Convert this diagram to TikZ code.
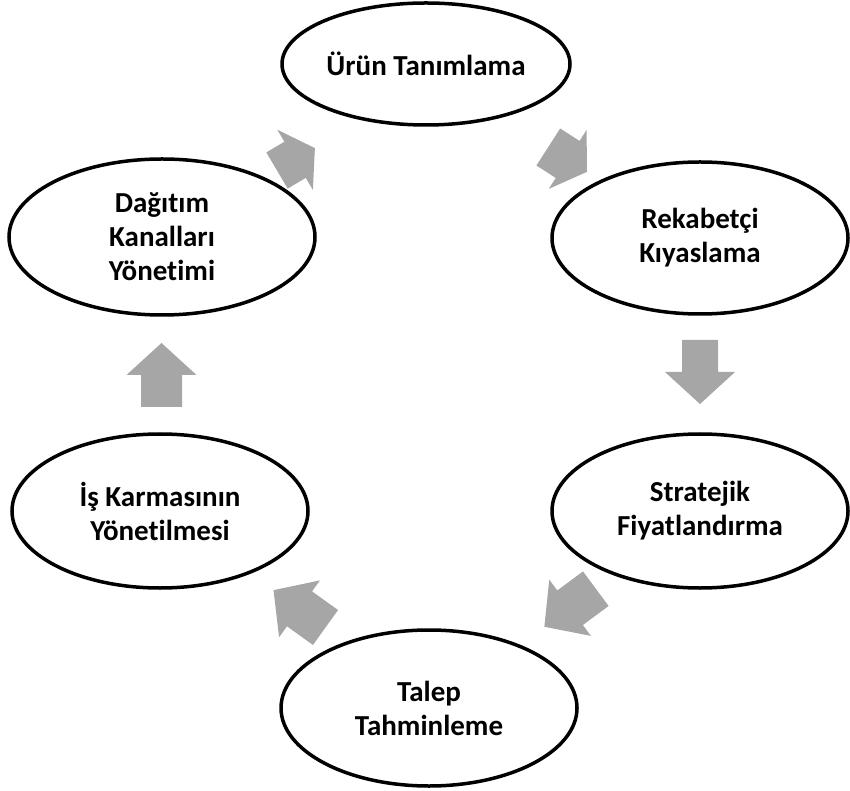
\documentclass[tikz,border=0pt]{standalone}
\usepackage{fontspec}
\setmainfont{Carlito}[Ligatures={NoCommon}]
\usetikzlibrary{shapes.geometric}

\definecolor{arrowgray}{RGB}{166,166,166}

% block arrow: tail point, direction angle, total length, head length, shaft width
\newcommand{\cyclearrow}[5]{%
  \fill[arrowgray, shift={#1}, rotate=#2]
    (0,-#5/2) -- (#3-#4,-#5/2) -- (#3-#4,-35) -- (#3,0)
    -- (#3-#4,35) -- (#3-#4,#5/2) -- (0,#5/2) -- cycle;}

\tikzset{
  stage/.style={ellipse, draw=black, line width=3.5pt, fill=white,
    inner sep=0pt, align=center,
    font=\fontsize{29}{34}\selectfont\bfseries},
}

\begin{document}
\begin{tikzpicture}[x=1pt,y=1pt]
\useasboundingbox (0,0) rectangle (850,790);

\node[stage, minimum width=288pt, minimum height=122pt] (urun) at (426,726) {Ürün Tanımlama};
\node[stage, minimum width=296pt, minimum height=152pt] (rekabet) at (700,552) {Rekabetçi\\Kıyaslama};
\node[stage, minimum width=296pt, minimum height=154pt] (strateji) at (700,279) {Stratejik\\Fiyatlandırma};
\node[stage, minimum width=296pt, minimum height=156pt] (talep) at (429,82) {Talep\\Tahminleme};
\node[stage, minimum width=296pt, minimum height=154pt] (karma) at (160,279) {İş Karmasının\\Yönetilmesi};
\node[stage, minimum width=306pt, minimum height=156pt] (dagitim) at (162,553) {Dağıtım\\Kanalları\\Yönetimi};

% arrows around the cycle
\cyclearrow{(277,619.5)}{30.6}{44}{23}{42}
\cyclearrow{(548.3,643)}{-32.7}{46}{23}{44}
\cyclearrow{(700,450)}{-90}{64}{32}{36}
\cyclearrow{(595.8,201.3)}{-143.5}{64}{32}{43}
\cyclearrow{(325.5,162.5)}{144.3}{64}{32}{43}
\cyclearrow{(161.5,383)}{90}{64}{32}{41}
\end{tikzpicture}
\end{document}
